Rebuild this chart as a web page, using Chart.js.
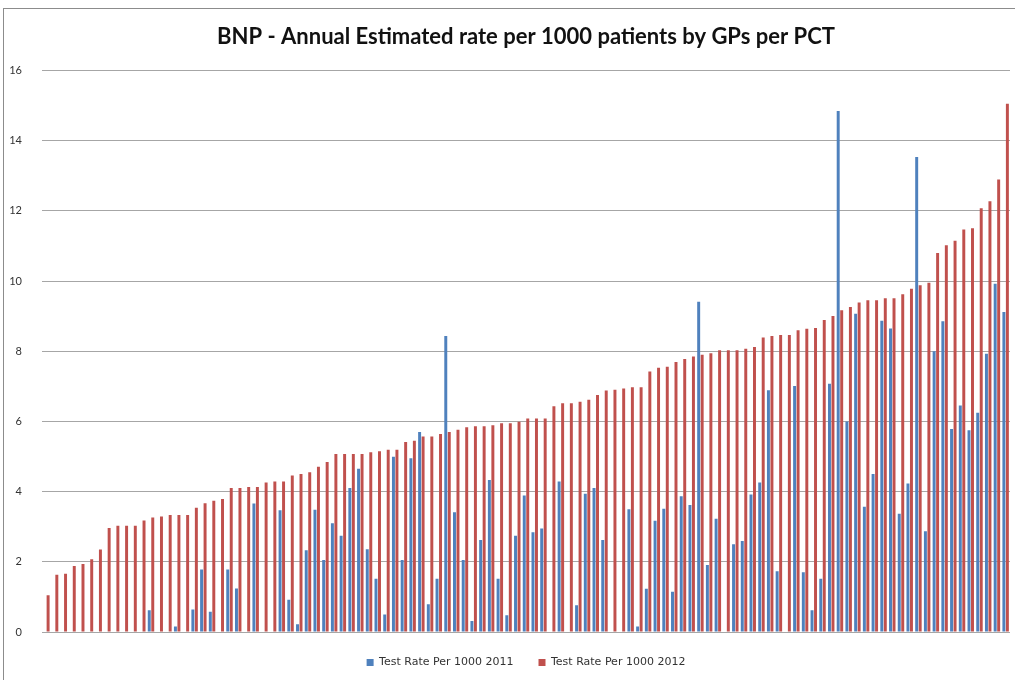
<!DOCTYPE html>
<html>
<head>
<meta charset="utf-8">
<script src="https://cdn.jsdelivr.net/npm/chart.js@4/dist/chart.umd.min.js"></script>
<style>
  html, body { margin: 0; padding: 0; background: #fff; }
  #frame {
    position: absolute; left: 3px; top: 8px; width: 1030px; height: 700px;
    border: 1px solid #8c8c8c; box-sizing: border-box;
  }
  #wrap { position: absolute; left: 0; top: 0; width: 1015px; height: 680px; }
</style>
</head>
<body>
<div id="frame"></div>
<div id="wrap"><canvas id="bnpChart"></canvas></div>
<script>
// GP practices, sorted by the 2012 rate
const rate2011 = [
  null, null, null, null, null, null, null, null, null, null,
  null, null, 0.62, null, null, 0.16, null, 0.64, 1.78, 0.58,
  null, 1.78, 1.24, null, 3.66, null, null, 3.47, 0.92, 0.22,
  2.33, 3.48, 2.05, 3.10, 2.74, 4.10, 4.65, 2.36, 1.52, 0.50,
  4.99, 2.05, 4.95, 5.70, 0.79, 1.52, 8.43, 3.41, 2.05, 0.31,
  2.62, 4.33, 1.52, 0.48, 2.74, 3.89, 2.84, 2.95, null, 4.29,
  null, 0.76, 3.94, 4.10, 2.62, null, null, 3.50, 0.16, 1.23,
  3.17, 3.51, 1.15, 3.87, 3.62, 9.41, 1.91, 3.23, null, 2.50,
  2.59, 3.92, 4.26, 6.89, 1.73, null, 7.01, 1.70, 0.62, 1.52,
  7.07, 14.84, 6.00, 9.07, 3.57, 4.50, 8.87, 8.65, 3.37, 4.23,
  13.53, 2.87, 8.00, 8.85, 5.78, 6.45, 5.75, 6.25, 7.93, 9.92,
  9.12
];
const rate2012 = [
  1.05, 1.63, 1.66, 1.88, 1.94, 2.07, 2.35, 2.96, 3.03, 3.03,
  3.03, 3.18, 3.26, 3.29, 3.33, 3.33, 3.33, 3.54, 3.67, 3.74,
  3.79, 4.10, 4.10, 4.13, 4.13, 4.26, 4.29, 4.29, 4.46, 4.50,
  4.55, 4.71, 4.84, 5.07, 5.07, 5.07, 5.07, 5.12, 5.15, 5.19,
  5.19, 5.41, 5.45, 5.57, 5.57, 5.64, 5.70, 5.76, 5.83, 5.86,
  5.86, 5.89, 5.95, 5.95, 5.99, 6.08, 6.08, 6.08, 6.43, 6.52,
  6.52, 6.56, 6.62, 6.75, 6.88, 6.90, 6.94, 6.97, 6.97, 7.42,
  7.53, 7.56, 7.69, 7.78, 7.85, 7.90, 7.94, 8.03, 8.03, 8.03,
  8.07, 8.12, 8.39, 8.43, 8.46, 8.46, 8.60, 8.64, 8.66, 8.89,
  9.00, 9.17, 9.26, 9.39, 9.45, 9.45, 9.51, 9.51, 9.62, 9.78,
  9.88, 9.95, 10.80, 11.02, 11.15, 11.47, 11.50, 12.07, 12.27, 12.89,
  15.05
];
const practices = rate2012.map((_, i) => "GP " + (i + 1));
const seriesNames = ["Test Rate Per 1000 2011", "Test Rate Per 1000 2012"];

const context = document.getElementById("bnpChart").getContext("2d");
new Chart(context, {
  type: "bar",
  data: {
    labels: practices,
    datasets: [
      {
        label: seriesNames[0],
        data: rate2011,
        backgroundColor: "#4f81bd",
        categoryPercentage: 0.8,
        barPercentage: 0.85
      },
      {
        label: seriesNames[1],
        data: rate2012,
        backgroundColor: "#c0504d",
        categoryPercentage: 0.8,
        barPercentage: 0.85
      }
    ]
  },
  options: {
    responsive: true,
    maintainAspectRatio: false,
    animation: false,
    layout: { padding: { left: 10, right: 5, top: 14, bottom: 2 } },
    plugins: {
      title: {
        display: true,
        fullSize: false,
        text: "BNP - Annual Estimated rate per 1000 patients by GPs per PCT",
        color: "#111",
        font: { family: "Lato", size: 22, weight: "bold" },
        padding: { top: 10, bottom: 20 }
      },
      legend: {
        position: "bottom",
        fullSize: false,
        labels: {
          color: "#333",
          font: { family: "DejaVu Sans", size: 11 },
          boxWidth: 7,
          boxHeight: 7,
          padding: 25
        }
      },
      tooltip: { enabled: false }
    },
    scales: {
      x: {
        afterFit: (scale) => { scale.height = 0; },
        grid: { display: false },
        border: { display: false },
        ticks: { display: false }
      },
      y: {
        min: 0,
        max: 16,
        afterFit: (scale) => { scale.width = 32; },
        border: { display: false },
        grid: { color: "#a6a6a6", lineWidth: 1, drawTicks: false },
        ticks: {
          stepSize: 2,
          padding: 20,
          color: "#333",
          font: { family: "Lato", size: 11 }
        }
      }
    }
  }
});
</script>
</body>
</html>
